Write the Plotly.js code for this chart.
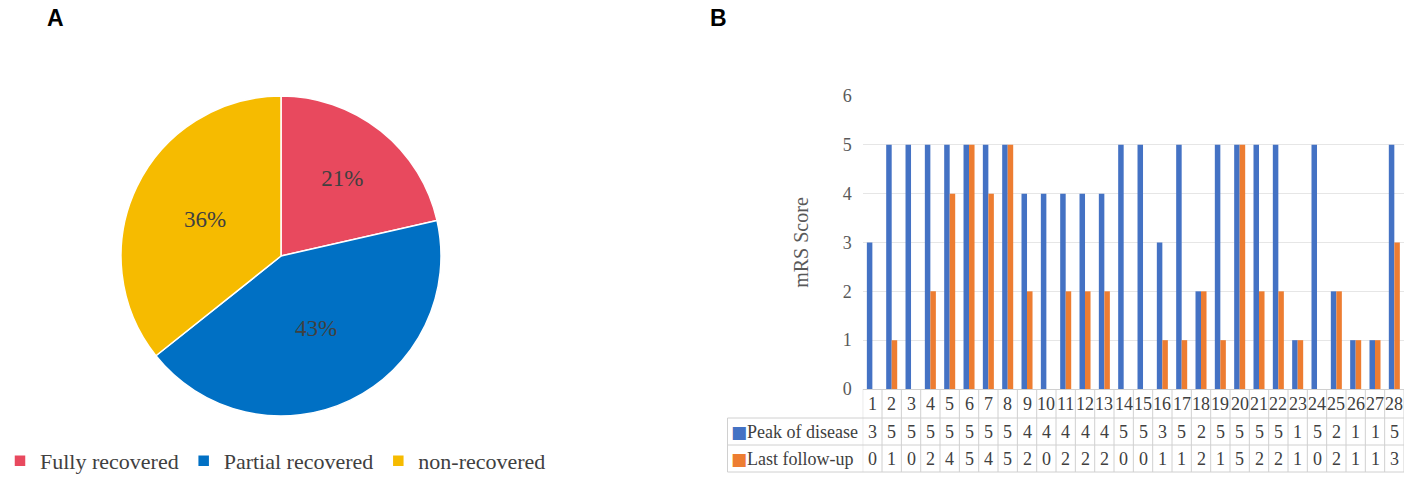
<!DOCTYPE html>
<html>
<head>
<meta charset="utf-8">
<script src="https://cdn.plot.ly/plotly-3.0.1.min.js"></script>
<style>html,body{margin:0;padding:0;background:#fff;}#chart{width:1417px;height:483px;}</style>
</head>
<body>
<div id="chart"></div>
<script>
// ---- data ----
const pieLabels = ["Fully recovered", "Partial recovered", "non-recovered"];
const pieCounts = [6, 12, 10];
const pieColors = ["#E8495E", "#0070C4", "#F6BB00"];

const patients = [1,2,3,4,5,6,7,8,9,10,11,12,13,14,15,16,17,18,19,20,21,22,23,24,25,26,27,28];
const peakName = "Peak of disease";
const lastName = "Last follow-up";
const peakScores = [3,5,5,5,5,5,5,5,4,4,4,4,4,5,5,3,5,2,5,5,5,5,1,5,2,1,1,5];
const lastScores = [0,1,0,2,4,5,4,5,2,0,2,2,2,0,0,1,1,2,1,5,2,2,1,0,2,1,1,3];
const yTicks = [0,1,2,3,4,5,6];
const peakColor = "#4472C4";
const lastColor = "#ED7D31";

// ---- layout constants ----
const W = 1417, H = 483;
const px = v => v / W;           // pixel x -> paper
const py = v => 1 - v / H;       // pixel y -> paper
const serif = "Liberation Serif, Times New Roman, serif";
const textCol = "#404040";
const borderCol = "#D0D0D0";

const xDom = [px(862.7), px(1404)];
const yDom = [py(389), py(96)];
const tableLeft = px(727.5);
const rowLines = [py(418), py(445), py(472)];
const rowCenters = { cat: py(404), peak: py(432), last: py(459) };

const traces = [
  {
    type: "pie",
    labels: pieLabels,
    values: pieCounts,
    sort: false,
    direction: "clockwise",
    rotation: 0,
    marker: { colors: pieColors, line: { color: "#ffffff", width: 1.5 } },
    texttemplate: "%{percent:.0%}",
    textposition: "inside",
    insidetextorientation: "horizontal",
    textfont: { family: serif, size: 23, color: textCol },
    domain: { x: [px(121), px(441)], y: [py(416), py(96)] },
    hoverinfo: "label+percent",
    showlegend: true
  },
  {
    type: "bar", name: peakName, x: patients, y: peakScores,
    marker: { color: peakColor }, showlegend: false, xaxis: "x", yaxis: "y"
  },
  {
    type: "bar", name: lastName, x: patients, y: lastScores,
    marker: { color: lastColor }, showlegend: false, xaxis: "x", yaxis: "y"
  }
];

const shapes = [];
const annotations = [];

// horizontal table lines
rowLines.forEach(y => shapes.push({
  type: "line", xref: "paper", yref: "paper", x0: tableLeft, x1: xDom[1], y0: y, y1: y,
  line: { color: borderCol, width: 1 }
}));
// left border of table label column
shapes.push({ type: "line", xref: "paper", yref: "paper", x0: tableLeft, x1: tableLeft,
  y0: rowLines[2], y1: rowLines[0], line: { color: borderCol, width: 1 } });
// vertical column borders at category boundaries
for (let i = 0; i <= patients.length; i++) {
  const xb = (i === 0 ? patients[0] : patients[i - 1]) + (i === 0 ? -0.5 : 0.5);
  shapes.push({ type: "line", xref: "x", yref: "paper", x0: xb, x1: xb,
    y0: rowLines[2], y1: yDom[0], line: { color: borderCol, width: 1 } });
}

// table text
const cellFont = { family: serif, size: 18, color: textCol };
patients.forEach((p, i) => {
  [[rowCenters.cat, String(p)], [rowCenters.peak, String(peakScores[i])], [rowCenters.last, String(lastScores[i])]]
    .forEach(([y, t]) => annotations.push({ xref: "x", yref: "paper", x: p, y: y, text: t,
      xanchor: "center", yanchor: "middle", showarrow: false, font: cellFont }));
});
const sq = c => `<span style="font-family:DejaVu Sans;color:${c};font-size:17px">■</span>`;
annotations.push({ xref: "paper", yref: "paper", x: px(729), y: rowCenters.peak, xanchor: "left", yanchor: "middle",
  text: sq(peakColor) + peakName, showarrow: false, font: cellFont });
annotations.push({ xref: "paper", yref: "paper", x: px(729), y: rowCenters.last, xanchor: "left", yanchor: "middle",
  text: sq(lastColor) + lastName, showarrow: false, font: cellFont });

// panel labels
const labelFont = { family: "Liberation Sans, Arial, sans-serif", size: 23, color: "#000" };
annotations.push({ xref: "paper", yref: "paper", x: px(55), y: py(18), xanchor: "center", yanchor: "middle",
  text: "<b>A</b>", showarrow: false, font: labelFont });
annotations.push({ xref: "paper", yref: "paper", x: px(718), y: py(18), xanchor: "center", yanchor: "middle",
  text: "<b>B</b>", showarrow: false, font: labelFont });

const layout = {
  width: W, height: H,
  margin: { l: 0, r: 0, t: 0, b: 0, autoexpand: false },
  paper_bgcolor: "#ffffff", plot_bgcolor: "#ffffff",
  barmode: "group", bargap: 0.43, bargroupgap: 0,
  xaxis: {
    domain: xDom, range: [0.5, 28.5], showticklabels: false, showgrid: false,
    zeroline: false, showline: false, ticks: "", fixedrange: true
  },
  yaxis: {
    domain: yDom, range: [0, 6], tickvals: yTicks, showgrid: true, gridcolor: "#E6E6E6",
    zeroline: true, zerolinecolor: borderCol, zerolinewidth: 1, showline: false, ticks: "",
    ticklabelstandoff: 10,
    tickfont: { family: serif, size: 18, color: "#595959" },
    title: { text: "mRS Score", standoff: 28, font: { family: serif, size: 20, color: "#595959" } },
    automargin: false
  },
  legend: {
    orientation: "h", x: 0, xanchor: "left", y: py(461), yanchor: "middle",
    font: { family: serif, size: 22, color: textCol }, itemwidth: 30, bgcolor: "rgba(0,0,0,0)"
  },
  shapes: shapes,
  annotations: annotations,
  showlegend: true
};

Plotly.newPlot("chart", traces, layout, { displayModeBar: false, staticPlot: true });
</script>
</body>
</html>
